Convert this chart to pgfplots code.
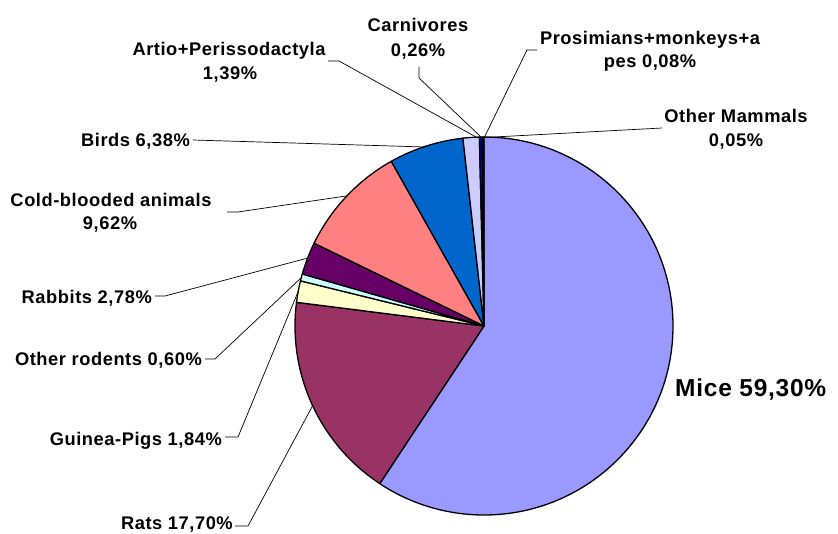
\documentclass[border=0pt]{standalone}
\usepackage{pgfplots}
\pgfplotsset{compat=1.18}
\usepackage{fontspec}
\setmainfont{Liberation Sans}[LetterSpace=3.0]
\definecolor{cMice}{HTML}{9999FF}
\definecolor{cRats}{HTML}{993366}
\definecolor{cGuinea}{HTML}{FFFFCC}
\definecolor{cRodents}{HTML}{CCFFFF}
\definecolor{cRabbits}{HTML}{660066}
\definecolor{cCold}{HTML}{FF8080}
\definecolor{cBirds}{HTML}{0066CC}
\definecolor{cArtio}{HTML}{CCCCFF}
\definecolor{cCarni}{HTML}{000080}
\definecolor{cPrim}{HTML}{FF00FF}
\definecolor{cOther}{HTML}{FFFF00}
\newcommand\lab{\fontsize{18.3}{22}\selectfont\bfseries}
% #1 = cumulative percentage before the slice, #2 = slice percentage, #3 = colour
\newcommand\slice[3]{%
  \filldraw[fill=#3,draw=black,line width=1.3pt,line join=round]
    (axis cs:484,326) -- (axis cs:{484+189*sin(3.6*(#1))},{326-189*cos(3.6*(#1))})
    arc[start angle={90-3.6*(#1)}, end angle={90-3.6*(#1)-3.6*(#2)}, radius=189pt] -- cycle;}
\begin{document}
\begin{tikzpicture}
\begin{axis}[scale only axis, width=838pt, height=534pt,
  xmin=0, xmax=838, ymin=0, ymax=534, y dir=reverse,
  hide axis, clip=false]
% slices: value (%) in second argument
\slice{0}{59.30}{cMice}
\slice{59.30}{17.70}{cRats}
\slice{77.00}{1.84}{cGuinea}
\slice{78.84}{0.60}{cRodents}
\slice{79.44}{2.78}{cRabbits}
\slice{82.22}{9.62}{cCold}
\slice{91.84}{6.38}{cBirds}
\slice{98.22}{1.39}{cArtio}
\slice{99.61}{0.26}{cCarni}
\slice{99.87}{0.08}{cPrim}
\slice{99.95}{0.05}{cOther}
% leader lines
\draw[line width=0.7pt] (axis cs:328,61) -- (axis cs:339,61) -- (axis cs:476,137);
\draw[line width=0.7pt] (axis cs:419,67) -- (axis cs:419,78) -- (axis cs:481,137);
\draw[line width=0.7pt] (axis cs:537,50) -- (axis cs:527,50) -- (axis cs:484.5,137);
\draw[line width=0.7pt] (axis cs:662,128) -- (axis cs:485,137.5);
\draw[line width=0.7pt] (axis cs:193,140) -- (axis cs:425,147);
\draw[line width=0.7pt] (axis cs:227,212) -- (axis cs:238,212) -- (axis cs:346,196);
\draw[line width=0.7pt] (axis cs:155,296) -- (axis cs:165,296) -- (axis cs:308,258);
\draw[line width=0.7pt] (axis cs:205,359) -- (axis cs:215,359) -- (axis cs:302,277);
\draw[line width=0.7pt] (axis cs:225,437) -- (axis cs:238,437) -- (axis cs:298,292);
\draw[line width=0.7pt] (axis cs:235,526) -- (axis cs:248,526) -- (axis cs:313,405);
% labels
\node[anchor=base, font=\lab, inner sep=0pt] at (axis cs:418,32) {Carnivores};
\node[anchor=base, font=\lab, inner sep=0pt] at (axis cs:418,57) {0,26\%};
\node[anchor=base, font=\lab, inner sep=0pt] at (axis cs:650,45) {Prosimians+monkeys+a};
\node[anchor=base, font=\lab, inner sep=0pt] at (axis cs:650,68) {pes 0,08\%};
\node[anchor=base, font=\lab, inner sep=0pt] at (axis cs:736,123) {Other Mammals};
\node[anchor=base, font=\lab, inner sep=0pt] at (axis cs:736,147) {0,05\%};
\node[anchor=base, font=\lab, inner sep=0pt] at (axis cs:229,56) {Artio+Perissodactyla};
\node[anchor=base, font=\lab, inner sep=0pt] at (axis cs:230,80) {1,39\%};
\node[anchor=base east, font=\lab, inner sep=0pt] at (axis cs:190,147) {Birds 6,38\%};
\node[anchor=base, font=\lab, inner sep=0pt] at (axis cs:111,207) {Cold-blooded animals};
\node[anchor=base, font=\lab, inner sep=0pt] at (axis cs:110,230) {9,62\%};
\node[anchor=base east, font=\lab, inner sep=0pt] at (axis cs:152,304) {Rabbits 2,78\%};
\node[anchor=base east, font=\lab, inner sep=0pt] at (axis cs:202,366) {Other rodents 0,60\%};
\node[anchor=base east, font=\lab, inner sep=0pt] at (axis cs:222,446) {Guinea-Pigs 1,84\%};
\node[anchor=base east, font=\lab, inner sep=0pt] at (axis cs:233,529) {Rats 17,70\%};
\node[anchor=base west, font={\fontsize{24.5}{28}\selectfont\bfseries}, inner sep=0pt] at (axis cs:675,397) {Mice 59,30\%};
\end{axis}
\pgfresetboundingbox
\useasboundingbox (current axis.south west) rectangle (current axis.north east);
\end{tikzpicture}
\end{document}
